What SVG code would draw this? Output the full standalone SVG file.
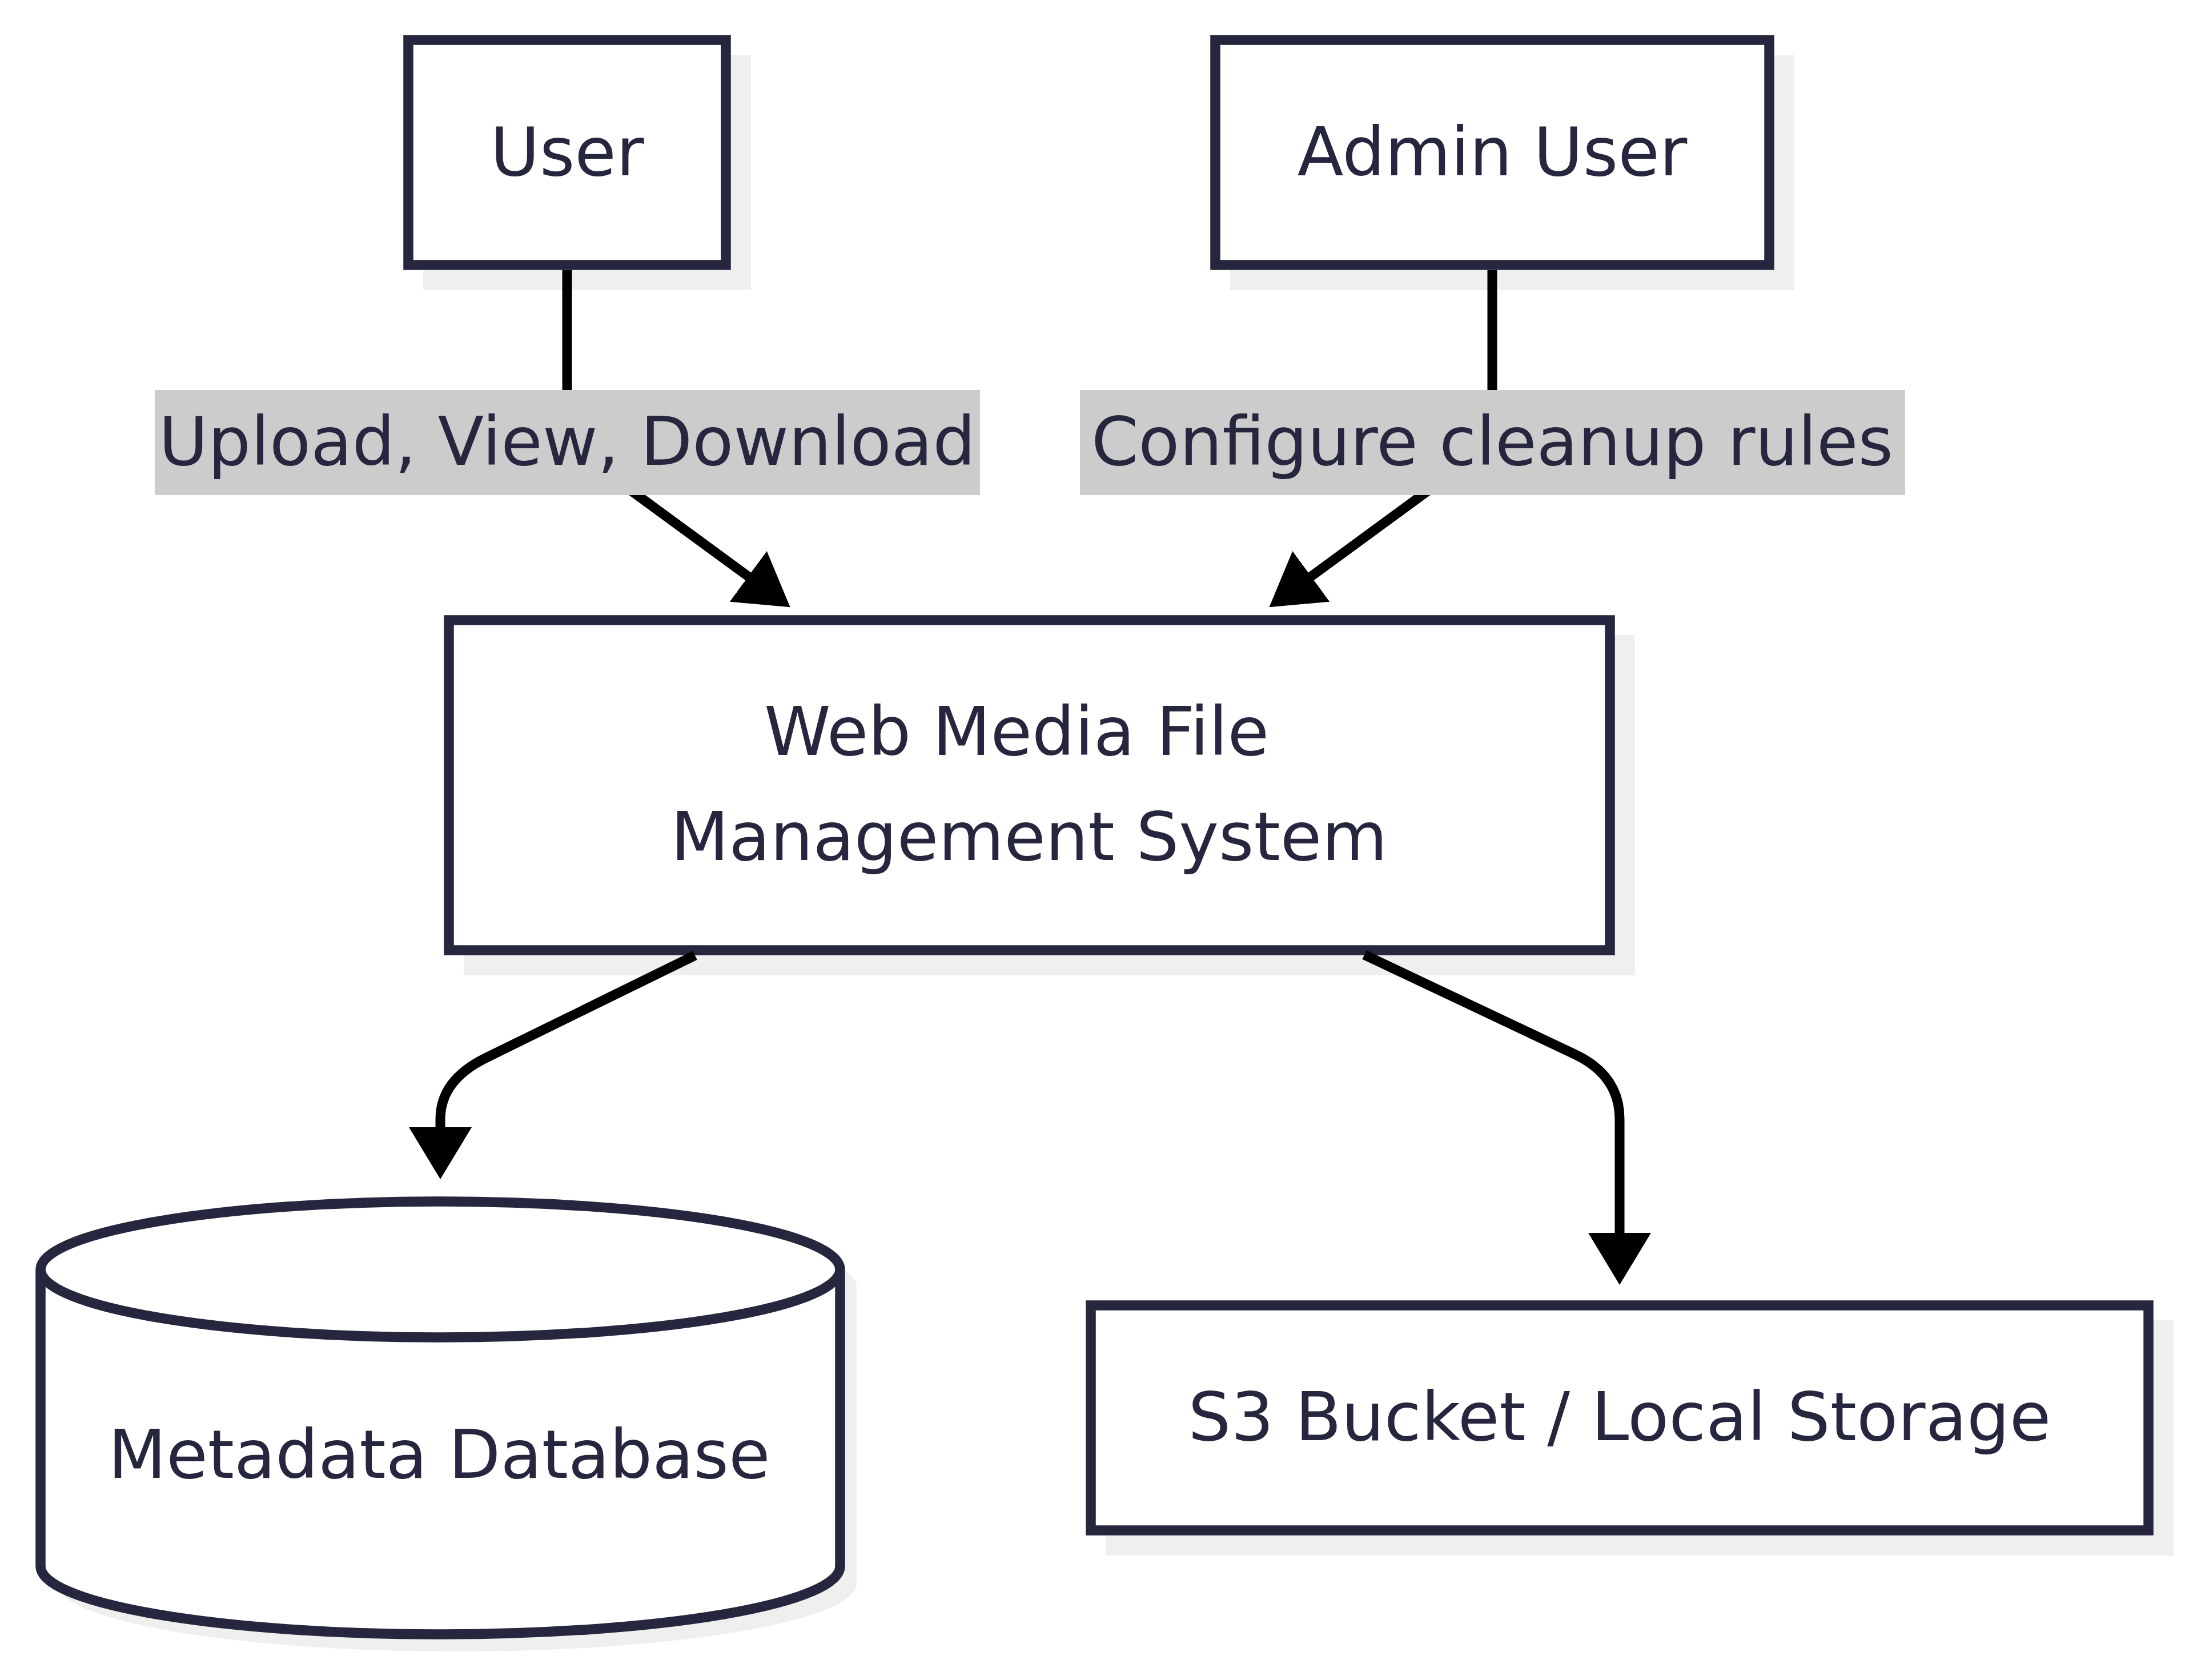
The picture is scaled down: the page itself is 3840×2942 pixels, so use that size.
<svg xmlns="http://www.w3.org/2000/svg" width="3840" height="2942" viewBox="0 0 3840 2942">
  <style>
    .shadow { fill: #efefef; stroke: none; }
    .node-shape { fill: #ffffff; stroke: #26263e; stroke-width: 17.5; }
    .label { font-family: "DejaVu Sans", "Liberation Sans", sans-serif; font-size: 118px; fill: #26263e; text-anchor: middle; }
    .edge { fill: none; stroke: #000000; stroke-width: 17; stroke-linejoin: round; }
    .edge-bg { fill: #cccccc; stroke: none; }
  </style>
  <defs>
    <marker id="arrow" markerUnits="userSpaceOnUse" markerWidth="92" markerHeight="112" viewBox="0 0 92 112" refX="1" refY="56" orient="auto">
      <path d="M0,1 L91,56 L0,111 z" fill="#000000"/>
    </marker>
  </defs>
  <rect x="0" y="0" width="3840" height="2942" fill="#ffffff"/>

  <g id="node-user">
    <rect class="shadow" x="741" y="96" width="574" height="412"/>
    <rect class="node-shape" x="715" y="70" width="556" height="394"/>
    <text class="label" x="993" y="307">User</text>
  </g>

  <g id="node-admin">
    <rect class="shadow" x="2154" y="96" width="988" height="412"/>
    <rect class="node-shape" x="2128" y="70" width="970" height="394"/>
    <text class="label" x="2613" y="307">Admin User</text>
  </g>

  <g id="node-system">
    <rect class="shadow" x="812" y="1112" width="2051" height="596"/>
    <rect class="node-shape" x="786" y="1086" width="2033" height="578"/>
    <text class="label" x="1780" y="1322">Web Media File</text>
    <text class="label" x="1802" y="1506">Management System</text>
  </g>

  <g id="node-db">
    <path class="shadow" d="M100,2253 a700,119 0 0,0 1400,0 a700,119 0 0,0 -1400,0 l0,520 a700,119 0 0,0 1400,0 l0,-520 z" stroke="#efefef" stroke-width="17.5"/>
    <path class="node-shape" d="M71,2223 a700,119 0 0,0 1400,0 a700,119 0 0,0 -1400,0 l0,520 a700,119 0 0,0 1400,0 l0,-520"/>
    <text class="label" x="769" y="2588">Metadata Database</text>
  </g>

  <g id="node-storage">
    <rect class="shadow" x="1936" y="2312" width="1870" height="412"/>
    <rect class="node-shape" x="1910" y="2286" width="1852" height="394"/>
    <text class="label" x="2836" y="2522">S3 Bucket / Local Storage</text>
  </g>

  <g id="connectors">
    <path class="edge" d="M993,473 L993,777 L1311,1010" marker-end="url(#arrow)"/>
    <path class="edge" d="M2613,473 L2613,777 L2295,1010" marker-end="url(#arrow)"/>
    <path class="edge" d="M1217,1673 L850,1853 Q771,1892 771,1960 L771,1975" marker-end="url(#arrow)"/>
    <path class="edge" d="M2389,1672 L2757,1846 Q2836,1883 2836,1960 L2836,2160" marker-end="url(#arrow)"/>
  </g>

  <g id="edge-labels">
    <g id="label-user">
      <rect class="edge-bg" x="271" y="683" width="1445" height="184"/>
      <text class="label" x="993" y="814">Upload, View, Download</text>
    </g>
    <g id="label-admin">
      <rect class="edge-bg" x="1891" y="683" width="1445" height="184"/>
      <text class="label" x="2613" y="814">Configure cleanup rules</text>
    </g>
  </g>
</svg>
